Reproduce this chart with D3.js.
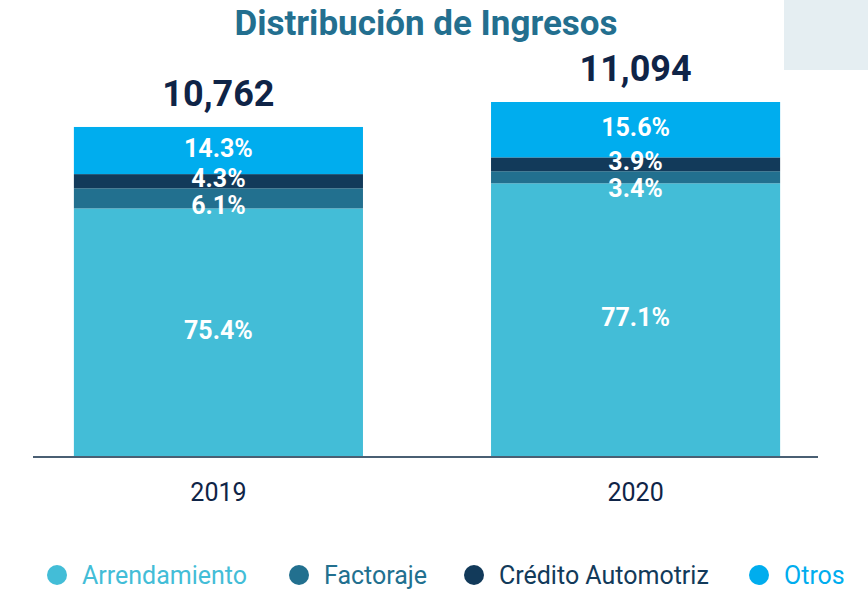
<!DOCTYPE html>
<html>
<head>
<meta charset="utf-8">
<script src="https://cdn.jsdelivr.net/npm/d3@7"></script>
<style>
    body { margin: 0; background: #fff; }
    svg { display: block; font-family: Roboto, 'DejaVu Sans', sans-serif; }
</style>
</head>
<body>
<div id="container"></div>
<script>
// datos
const years = ['2019', '2020'];
const totals = [10762, 11094];
const seriesNames = ['Arrendamiento', 'Factoraje', 'Crédito Automotriz', 'Otros'];
const arrendamiento = [75.4, 77.1];
const factoraje = [6.1, 3.4];
const creditoAutomotriz = [4.3, 3.9];
const otros = [14.3, 15.6];
const colors = ['#43BDD7', '#22708F', '#123A5A', '#00ADEE'];

const width = 868;
const height = 589;
const baseY = 457;

const svg = d3.select('#container')
    .append('svg')
    .attr('width', width)
    .attr('height', height);

// caja gris arriba a la derecha
svg.append('rect')
    .attr('x', 784).attr('y', 0)
    .attr('width', 84).attr('height', 70)
    .attr('fill', '#E5EEF2');

// titulo
svg.append('text')
    .attr('x', 426).attr('y', 35)
    .attr('text-anchor', 'middle')
    .attr('font-size', 35)
    .attr('font-weight', 700)
    .attr('fill', '#236F8F')
    .text('Distribución de Ingresos');

const table = years.map((y, i) => ({
    year: y,
    total: totals[i],
    'Arrendamiento': arrendamiento[i],
    'Factoraje': factoraje[i],
    'Crédito Automotriz': creditoAutomotriz[i],
    'Otros': otros[i]
}));

// escalas
const xScale = d3.scaleBand()
    .domain(years)
    .range([33, 821])
    .paddingInner(0.307)
    .paddingOuter(0.098);
const yScale = d3.scaleLinear()
    .domain([6374, 11094])
    .range([baseY, 102]);

const stacked = d3.stack().keys(seriesNames)(table);

// escala local para cada barra (porcentaje -> pixeles)
const local = d => {
    const sum = d3.sum(seriesNames, k => d[k]);
    return d3.scaleLinear().domain([0, sum]).range([baseY, yScale(d.total)]);
};

const layers = svg.append('g').selectAll('g')
    .data(stacked)
    .join('g')
    .attr('fill', (d, i) => colors[i]);

layers.selectAll('rect')
    .data(d => d)
    .join('rect')
    .attr('x', d => xScale(d.data.year))
    .attr('width', xScale.bandwidth())
    .attr('y', d => local(d.data)(d[1]))
    .attr('height', d => local(d.data)(d[0]) - local(d.data)(d[1]));

// linea base
svg.append('line')
    .attr('x1', 33).attr('x2', 818)
    .attr('y1', baseY).attr('y2', baseY)
    .attr('stroke', '#4A5F73')
    .attr('stroke-width', 2);

// etiquetas de porcentaje, de arriba hacia abajo evitando choques
years.forEach((y, i) => {
    const s = local(table[i]);
    const items = stacked.map(layer => ({
        v: layer[i].data[layer.key],
        cy: (s(layer[i][0]) + s(layer[i][1])) / 2
    })).reverse();
    for (let j = 1; j < items.length; j++) {
        if (items[j].cy - items[j - 1].cy < 27) items[j].cy = items[j - 1].cy + 27;
    }
    svg.append('g').selectAll('text')
        .data(items)
        .join('text')
        .attr('x', xScale(y) + xScale.bandwidth() / 2)
        .attr('y', d => d.cy - 3)
        .attr('dy', '0.36em')
        .attr('text-anchor', 'middle')
        .attr('font-size', 25)
        .attr('font-weight', 700)
        .attr('fill', '#fff')
        .text(d => d3.format('.1f')(d.v) + '%');
});

// totales
svg.append('g').selectAll('text')
    .data(table)
    .join('text')
    .attr('x', d => xScale(d.year) + xScale.bandwidth() / 2)
    .attr('y', d => yScale(d.total) - 21)
    .attr('text-anchor', 'middle')
    .attr('font-size', 36)
    .attr('font-weight', 700)
    .attr('fill', '#0F2447')
    .text(d => d3.format(',')(d.total));

// eje x
const xAxis = d3.axisBottom(xScale).tickSize(0).tickPadding(26);
const xAxisG = svg.append('g')
    .attr('transform', `translate(0,${baseY})`)
    .call(xAxis);
xAxisG.select('.domain').remove();
xAxisG.selectAll('text')
    .attr('font-size', 25)
    .attr('font-family', 'Roboto, sans-serif')
    .attr('fill', '#0F2447');

// leyenda
const legendX = [57, 299, 474, 759];
const legend = svg.append('g').selectAll('g')
    .data(seriesNames)
    .join('g')
    .attr('transform', (d, i) => `translate(${legendX[i]},575)`);
legend.append('circle')
    .attr('r', 10)
    .attr('fill', (d, i) => colors[i]);
legend.append('text')
    .attr('x', 25)
    .attr('dy', '0.35em')
    .attr('font-size', 25)
    .attr('fill', (d, i) => colors[i])
    .text(d => d);
</script>
</body>
</html>
